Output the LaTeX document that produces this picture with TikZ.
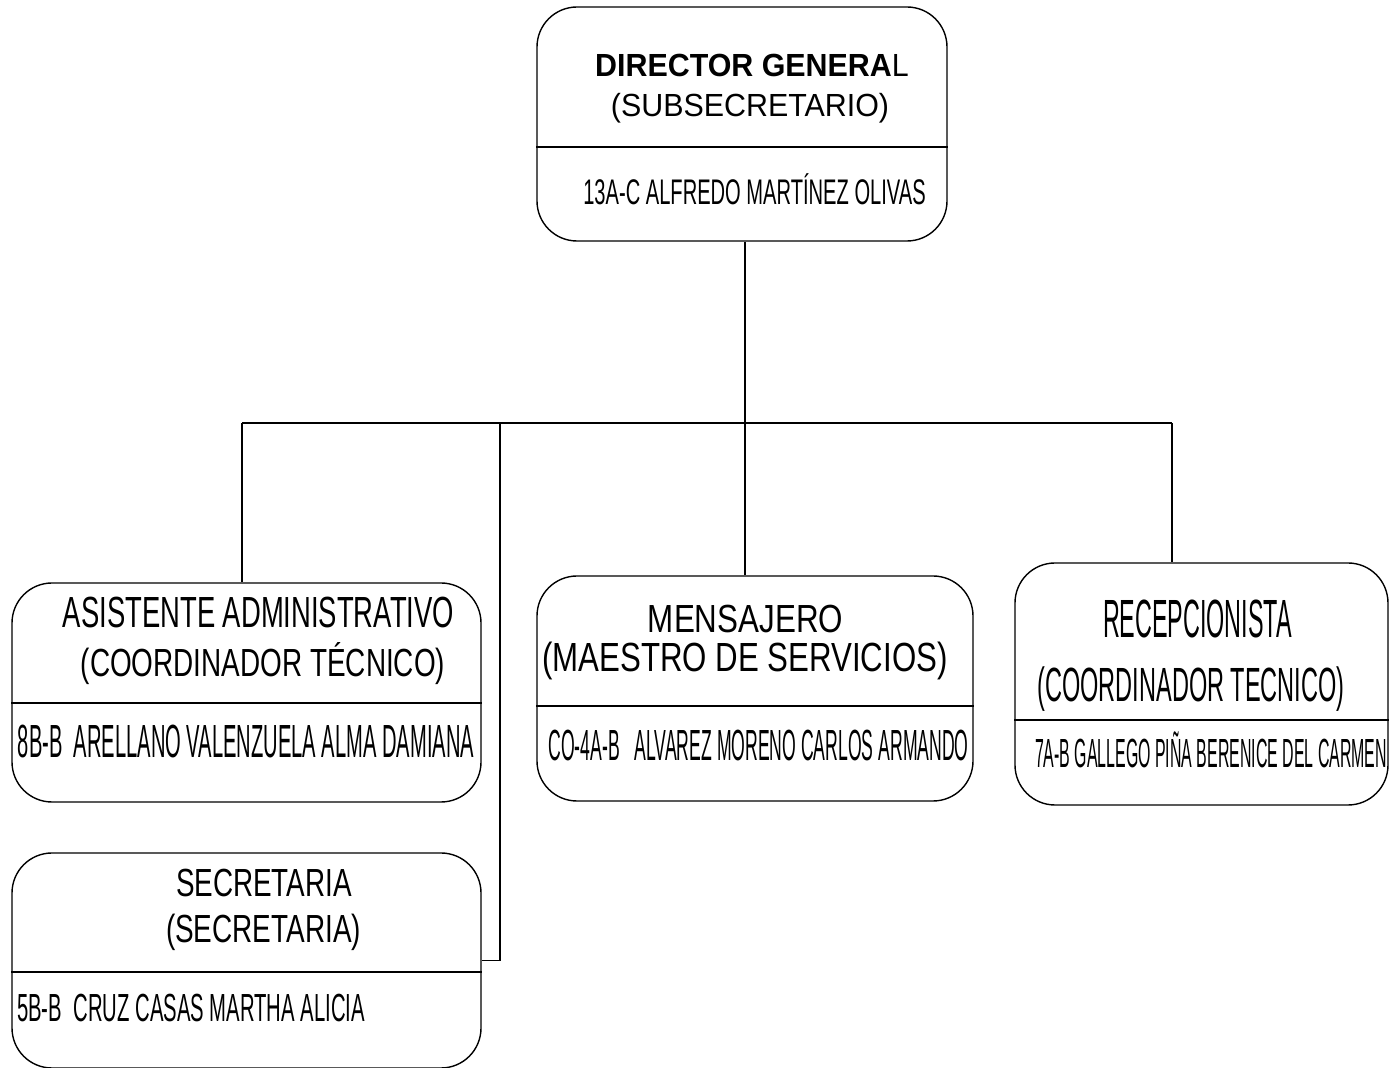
\documentclass[tikz,border=0pt]{standalone}
\usepackage{fontspec}
\usepackage{graphicx}
\setmainfont{Liberation Sans}
\usetikzlibrary{positioning}
\newcommand{\sq}[3]{\fontsize{#1}{#1}\selectfont\scalebox{#2}[1]{#3}}
\tikzset{
  box/.style={draw, rounded corners=20pt, inner sep=0pt, line width=0.7pt},
  txt/.style={anchor=base, inner sep=0pt},
  wire/.style={line width=0.7pt}
}
\begin{document}
\begin{tikzpicture}[x=0.5pt, y=-0.5pt]
\useasboundingbox (0,0) rectangle (1389,1068);
% boxes
\node[box, minimum width=205pt, minimum height=117pt] (dir) at (742,124) {};
\node[box, minimum width=234.5pt, minimum height=109.5pt] (asis) at (246.5,692.5) {};
\node[box, minimum width=234.5pt, minimum height=107.5pt] (secr) at (246.5,960.5) {};
\node[box, minimum width=218pt, minimum height=112.5pt] (mens) at (755,688.5) {};
\node[box, minimum width=186.5pt, minimum height=121pt] (recep) at (1201.5,684) {};
% dividers
\draw[wire] (dir.west |- 0,147) -- (dir.east |- 0,147);
\draw[wire] (asis.west |- 0,703) -- (asis.east |- 0,703);
\draw[wire] (secr.west |- 0,972) -- (secr.east |- 0,972);
\draw[wire] (mens.west |- 0,706) -- (mens.east |- 0,706);
\draw[wire] (recep.west |- 0,720) -- (recep.east |- 0,720);
% texts
\node[txt] (dirA) at (752,77) {\sq{16pt}{0.95}{{\bfseries DIRECTOR GENERA}L}};
\node[txt] (dirB) at (750,117) {\sq{16pt}{0.95}{(SUBSECRETARIO)}};
\node[txt] (dirC) at (754.5,205) {\sq{17.8pt}{0.565}{13A-C ALFREDO MARTÍNEZ OLIVAS}};
\node[txt] (asisA) at (258.5,628) {\sq{21.8pt}{0.629}{ASISTENTE ADMINISTRATIVO}};
\node[txt] (asisB) at (263,677) {\sq{19.6pt}{0.712}{(COORDINADOR TÉCNICO)}};
\node[txt] (asisC) at (246,758) {\sq{23.25pt}{0.433}{8B-B\ \ ARELLANO VALENZUELA ALMA DAMIANA}};
\node[txt] (secrA) at (264,897) {\sq{19.6pt}{0.71}{SECRETARIA}};
\node[txt] (secrB) at (263.5,943) {\sq{19.6pt}{0.712}{(SECRETARIA)}};
\node[txt] (secrC) at (191,1022) {\sq{19.6pt}{0.517}{5B-B\ \ CRUZ CASAS MARTHA ALICIA}};
\node[txt] (mensA) at (745.5,633) {\sq{19.6pt}{0.80}{MENSAJERO}};
\node[txt] (mensB) at (745,672) {\sq{20.35pt}{0.767}{(MAESTRO DE SERVICIOS)}};
\node[txt] (mensC) at (758.5,761) {\sq{21.8pt}{0.404}{CO-4A-B\ \ \ ALVAREZ MORENO CARLOS ARMANDO}};
\node[txt] (recepA) at (1197.5,638) {\sq{26.9pt}{0.434}{RECEPCIONISTA}};
\node[txt] (recepB) at (1191,702) {\sq{24pt}{0.49}{(COORDINADOR TECNICO)}};
\node[txt] (recepC) at (1211,768) {\sq{20.35pt}{0.391}{7A-B GALLEGO PIÑA BERENICE DEL CARMEN}};
% connectors
\coordinate (bL) at (242,423);
\coordinate (bS) at (500,423);
\coordinate (bM) at (745,423);
\coordinate (bR) at (1172,423);
\draw[wire] (dir.south -| bM) -- (bM);
\draw[wire] (bL) -- (bR);
\draw[wire] (bL) -- (bL |- asis.north);
\draw[wire] (bM) -- (bM |- mens.north);
\draw[wire] (bR) -- (bR |- recep.north);
\draw[wire] (bS) |- (secr.east);
\end{tikzpicture}
\end{document}
